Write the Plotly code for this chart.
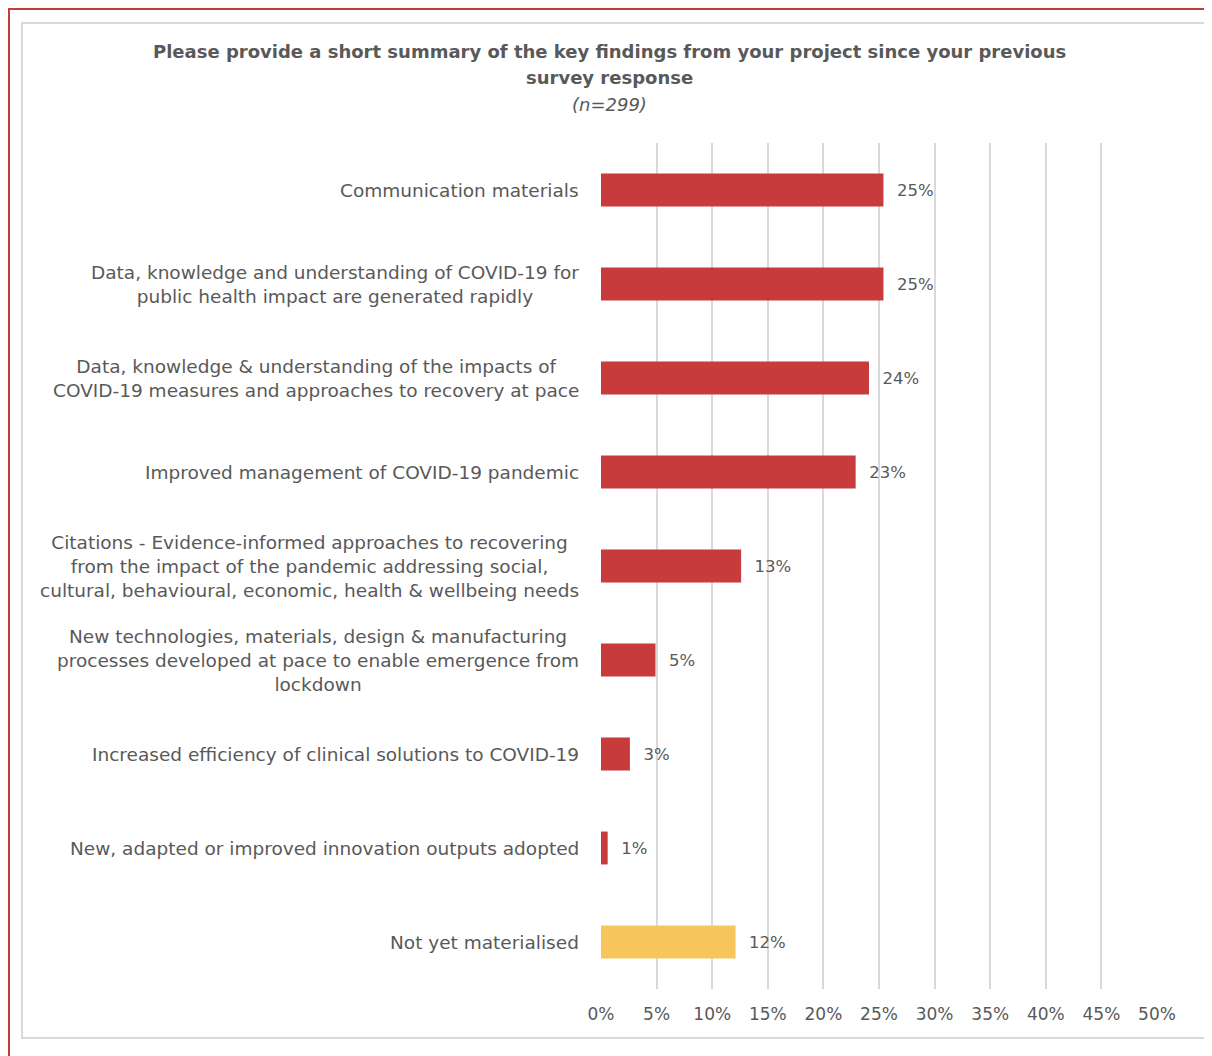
import plotly.graph_objects as go

categories = [
    "Communication materials",
    "Data, knowledge and understanding of COVID-19 for<br>public health impact are generated rapidly",
    "Data, knowledge & understanding of the impacts of<br>COVID-19 measures and approaches to recovery at pace",
    "Improved management of COVID-19 pandemic",
    "Citations - Evidence-informed approaches to recovering<br>from the impact of the pandemic addressing social,<br>cultural, behavioural, economic, health & wellbeing needs",
    "New technologies, materials, design & manufacturing<br>processes developed at pace to enable emergence from<br>lockdown",
    "Increased efficiency of clinical solutions to COVID-19",
    "New, adapted or improved innovation outputs adopted",
    "Not yet materialised",
]
values = [25.4, 25.4, 24.1, 22.9, 12.6, 4.9, 2.6, 0.6, 12.1]
value_labels = ["25%", "25%", "24%", "23%", "13%", "5%", "3%", "1%", "12%"]
bar_colors = ["#C73B3C"] * 8 + ["#F7C55A"]
x_ticks = [0, 5, 10, 15, 20, 25, 30, 35, 40, 45, 50]
x_tick_labels = [f"{t}%" for t in x_ticks]
title_lines = [
    "<b>Please provide a short summary of the key findings from your project since your previous</b>",
    "<b>survey response</b>",
    "<i>(n=299)</i>",
]

FONT = "DejaVu Sans"
GREY = "#595959"

# page is rendered with an 8px body margin
OFF = 8
W, H = 1212 - OFF, 1056 - OFF
L, R, T, B = 601 - OFF, 1157 - OFF, 143 - OFF, 989 - OFF

def px(xs):
    return (xs - OFF - L) / (R - L)

def py(ys):
    return (B - (ys - OFF)) / (B - T)

fig = go.Figure()
fig.add_trace(go.Bar(
    y=list(range(len(categories))),
    x=values,
    orientation="h",
    marker=dict(color=bar_colors, line=dict(width=0)),
    width=0.35,
    text=value_labels,
    texttemplate="\u00a0\u00a0%{text}",
    textposition="outside",
    textfont=dict(family=FONT, size=16.5, color=GREY),
    cliponaxis=False,
    hoverinfo="skip",
))

for i, c in enumerate(categories):
    fig.add_annotation(
        x=0, xref="paper", y=i, yref="y",
        text=c, showarrow=False,
        xanchor="right", yanchor="middle", align="center",
        xshift=-20,
        font=dict(family=FONT, size=18.5, color=GREY),
    )

shapes = [
    dict(type="rect", xref="paper", yref="paper",
         x0=px(22), x1=px(1208), y0=py(1038), y1=py(23),
         line=dict(color="#D9D9D9", width=2), fillcolor="rgba(0,0,0,0)", layer="below"),
    dict(type="rect", xref="paper", yref="paper",
         x0=px(9), x1=px(1240), y0=py(1090), y1=py(9),
         line=dict(color="#C73B3C", width=2), fillcolor="rgba(0,0,0,0)", layer="below"),
]

for line, yc in zip(title_lines, [51, 77, 104]):
    fig.add_annotation(
        x=px(609), xref="paper", xanchor="center",
        y=py(yc), yref="paper", yanchor="middle",
        text=line, showarrow=False, align="center",
        font=dict(family=FONT, size=18, color=GREY),
    )

fig.update_layout(
    width=W, height=H,
    margin=dict(l=L, r=W - R, t=T, b=H - B, pad=0),
    paper_bgcolor="white", plot_bgcolor="white",
    showlegend=False,
    shapes=shapes,
    xaxis=dict(
        range=[0, 50], tickvals=x_ticks, ticktext=x_tick_labels,
        showgrid=True, gridcolor="#D9D9D9", gridwidth=1.5,
        zeroline=False, showline=False, ticks="",
        tickfont=dict(family=FONT, size=17, color=GREY),
        ticklabelstandoff=13,
        fixedrange=True,
    ),
    yaxis=dict(
        range=[len(categories) - 0.5, -0.5],
        showticklabels=False, showgrid=False, zeroline=False, showline=False,
        ticks="", fixedrange=True,
    ),
)

fig.write_html("out.html")
